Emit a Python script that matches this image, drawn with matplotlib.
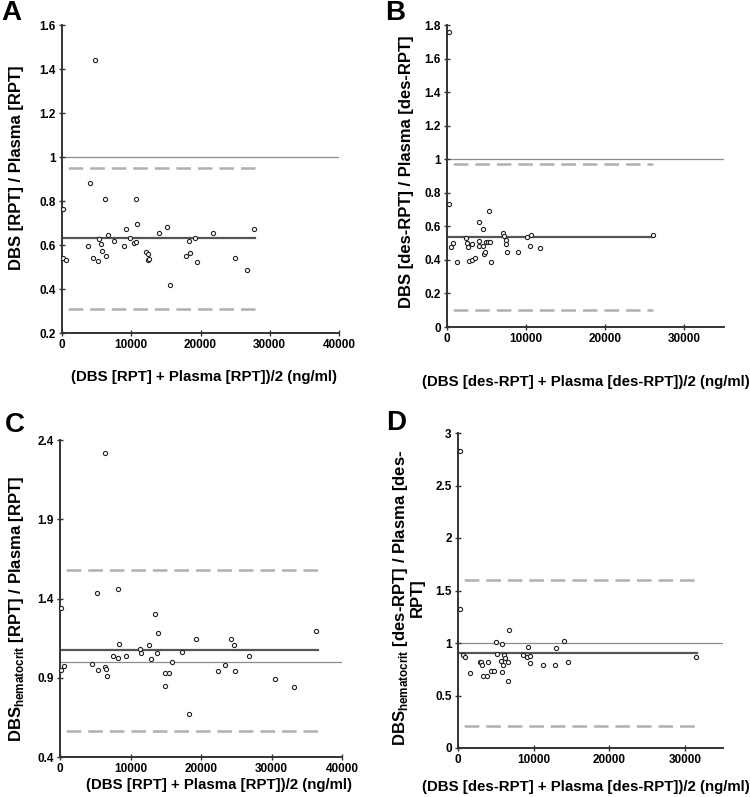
import numpy as np
import matplotlib
matplotlib.use("Agg")
import matplotlib.pyplot as plt
import matplotlib.transforms as mtransforms

plt.rcParams['font.family'] = ['Liberation Sans', 'DejaVu Sans']
plt.rcParams['font.weight'] = 'bold'
plt.rcParams['mathtext.fontset'] = 'custom'
plt.rcParams['mathtext.rm'] = 'Liberation Sans:bold'
plt.rcParams['mathtext.bf'] = 'Liberation Sans:bold'
plt.rcParams['lines.scale_dashes'] = False

# Panel A: RPT, DBS / plasma
a_x = [100, 200, 577, 4808, 4087, 3798, 4471, 5144, 5385, 5673, 5817, 6154, 6394,
       6587, 7500, 8991, 9183, 9760, 10337, 10625, 10721, 10817, 12164, 12404,
       12452, 12548, 13943, 15193, 15529, 17885, 18366, 18510, 19231, 19520,
       21779, 25000, 26780, 27694]
a_y = [0.763, 0.541, 0.531, 1.443, 0.884, 0.595, 0.542, 0.528, 0.628, 0.604, 0.574,
       0.807, 0.550, 0.647, 0.616, 0.597, 0.671, 0.630, 0.610, 0.807, 0.613, 0.696,
       0.569, 0.533, 0.560, 0.535, 0.656, 0.684, 0.416, 0.548, 0.619, 0.562, 0.634,
       0.521, 0.656, 0.541, 0.486, 0.674]
a_mean, a_lo, a_hi, a_end = 0.63, 0.31, 0.95, 27900

# Panel B: des-RPT, DBS / plasma
b_x = [210, 210, 546, 756, 1219, 2437, 2563, 2605, 2815, 3110, 3152, 3572, 4034,
       4076, 4076, 4496, 4538, 4706, 4832, 4874, 5126, 5294, 5462, 5547, 7017,
       7227, 7395, 7479, 7563, 8992, 10127, 10547, 10673, 11723, 26010]
b_y = [1.760, 0.734, 0.475, 0.503, 0.390, 0.529, 0.503, 0.475, 0.396, 0.495, 0.400,
       0.412, 0.627, 0.513, 0.483, 0.483, 0.583, 0.434, 0.449, 0.509, 0.509, 0.694,
       0.505, 0.390, 0.561, 0.545, 0.519, 0.495, 0.445, 0.449, 0.539, 0.483, 0.549,
       0.473, 0.549]
b_mean, b_lo, b_hi, b_end = 0.535, 0.10, 0.97, 26000

# Panel C: RPT, hematocrit-corrected DBS / plasma
c_x = [6423, 94, 94, 567, 4581, 5195, 5431, 6423, 6470, 6707, 7462, 8265, 8360,
       8265, 9305, 11383, 11477, 12563, 12847, 13461, 13697, 13886, 14878, 14878,
       15397, 15869, 17286, 18278, 19317, 22387, 23473, 24276, 24701, 24796, 26780,
       30558, 33155, 36367]
c_y = [2.320, 1.339, 0.946, 0.974, 0.984, 1.436, 0.946, 0.967, 0.955, 0.908, 1.037,
       1.463, 1.112, 1.022, 1.037, 1.081, 1.056, 1.106, 1.016, 1.301, 1.058, 1.184,
       0.929, 0.850, 0.927, 0.997, 1.062, 0.673, 1.142, 0.944, 0.982, 1.142, 1.104,
       0.942, 1.037, 0.890, 0.839, 1.198]
c_mean, c_lo, c_hi, c_end = 1.077, 0.566, 1.581, 36600

# Panel D: des-RPT, hematocrit-corrected DBS / plasma
d_x = [309, 265, 706, 882, 1588, 2912, 3044, 3177, 3353, 3794, 3927, 4412, 4721,
       5030, 5206, 5647, 5780, 5824, 5956, 6089, 6265, 6618, 6662, 6750, 8559,
       9177, 9309, 9486, 9486, 11206, 12795, 12883, 13942, 14560, 31413]
d_y = [2.832, 1.327, 0.883, 0.870, 0.714, 0.819, 0.819, 0.790, 0.689, 0.689, 0.822,
       0.730, 0.730, 1.006, 0.892, 0.832, 0.994, 0.727, 0.787, 0.886, 0.857, 0.819,
       0.635, 1.127, 0.889, 0.870, 0.965, 0.876, 0.806, 0.787, 0.787, 0.949, 1.016,
       0.819, 0.870]
d_mean, d_lo, d_hi, d_end = 0.905, 0.213, 1.603, 31600

panels = [
    dict(letter='A', x=a_x, y=a_y, mean=a_mean, lo=a_lo, hi=a_hi, end=a_end,
         xlim=40000, xticks=[0, 10000, 20000, 30000, 40000],
         ylim=(0.2, 1.6), yticks=[0.2, 0.4, 0.6, 0.8, 1.0, 1.2, 1.4, 1.6],
         ylabels=['0.2', '0.4', '0.6', '0.8', '1', '1.2', '1.4', '1.6'],
         rect=[62, 25, 339, 333],
         xlabel='(DBS [RPT] + Plasma [RPT])/2 (ng/ml)', xl=(204, 377),
         ylabel='DBS [RPT] / Plasma [RPT]', yl=(17, 168), lt=(11, 13)),
    dict(letter='B', x=b_x, y=b_y, mean=b_mean, lo=b_lo, hi=b_hi, end=b_end,
         xlim=35000, xticks=[0, 10000, 20000, 30000],
         ylim=(0, 1.8), yticks=[0, 0.2, 0.4, 0.6, 0.8, 1.0, 1.2, 1.4, 1.6, 1.8],
         ylabels=['0', '0.2', '0.4', '0.6', '0.8', '1', '1.2', '1.4', '1.6', '1.8'],
         rect=[447, 25, 724, 327],
         xlabel='(DBS [des-RPT] + Plasma [des-RPT])/2 (ng/ml)', xl=(586, 382),
         ylabel='DBS [des-RPT] / Plasma [des-RPT]', yl=(407, 172), lt=(395, 13)),
    dict(letter='C', x=c_x, y=c_y, mean=c_mean, lo=c_lo, hi=c_hi, end=c_end,
         xlim=40000, xticks=[0, 10000, 20000, 30000, 40000],
         ylim=(0.4, 2.4), yticks=[0.4, 0.9, 1.4, 1.9, 2.4],
         ylabels=['0.4', '0.9', '1.4', '1.9', '2.4'],
         rect=[60, 440, 342, 757],
         xlabel='(DBS [RPT] + Plasma [RPT])/2 (ng/ml)', xl=(219, 785),
         ylabel=r'DBS$_{\mathbf{hematocrit}}$ [RPT] / Plasma [RPT]', yl=(17, 609),
         lt=(15, 425)),
    dict(letter='D', x=d_x, y=d_y, mean=d_mean, lo=d_lo, hi=d_hi, end=d_end,
         xlim=35000, xticks=[0, 10000, 20000, 30000],
         ylim=(0, 3), yticks=[0, 0.5, 1, 1.5, 2, 2.5, 3],
         ylabels=['0', '0.5', '1', '1.5', '2', '2.5', '3'],
         rect=[458, 433, 723, 748],
         xlabel='(DBS [des-RPT] + Plasma [des-RPT])/2 (ng/ml)', xl=(586, 787),
         ylabel='DBS$_{\\mathbf{hematocrit}}$ [des-RPT] / Plasma [des-\nRPT]',
         yl=(408, 598), lt=(396, 423)),
]

W, H = 750, 797
fig = plt.figure(figsize=(W / 100, H / 100), dpi=100)
to_fig = mtransforms.Affine2D().scale(1 / W, -1 / H).translate(0, 1) + fig.transFigure

for p in panels:
    l, t, r, b = p['rect']
    ax = fig.add_axes([l / W, 1 - b / H, (r - l) / W, (b - t) / H])
    ax.set_xlim(0, p['xlim'])
    ax.set_ylim(*p['ylim'])

    # reference line at 1, mean ratio, 95% limits
    ax.axhline(1.0, color='#8c8c8c', lw=0.9, zorder=1)
    ax.plot([0, p['end']], [p['mean'], p['mean']], color='#555555', lw=1.6, zorder=2)
    for lim in (p['lo'], p['hi']):
        ax.plot([0, p['end']], [lim, lim], color='#b0b0b0', lw=1.8,
                linestyle=(11, (10.5, 5.0)), zorder=1)

    ax.plot(p['x'], p['y'], linestyle='none', marker='o', ms=3.0,
            mfc='white', mec='#222222', mew=0.8, zorder=3, clip_on=False)

    for s in ('top', 'right'):
        ax.spines[s].set_visible(False)
    for s in ('left', 'bottom'):
        ax.spines[s].set_color('#333333')
        ax.spines[s].set_linewidth(1.4)

    ax.set_xticks(p['xticks'])
    ax.set_xticklabels([str(v) for v in p['xticks']])
    ax.set_yticks(p['yticks'])
    ax.set_yticklabels(p['ylabels'])
    ax.tick_params(direction='inout', length=5, width=1.0, color='#333333',
                   labelsize=8.5, pad=2)
    for lbl in ax.get_xticklabels() + ax.get_yticklabels():
        lbl.set_fontweight('bold')

    fig.text(p['xl'][0], p['xl'][1], p['xlabel'], transform=to_fig,
             ha='center', va='center', fontsize=10.8, fontweight='bold')
    fig.text(p['yl'][0], p['yl'][1], p['ylabel'], transform=to_fig, rotation=90,
             ha='center', va='center', fontsize=12, fontweight='bold',
             multialignment='center', linespacing=1.0)
    fig.text(p['lt'][0], p['lt'][1], p['letter'], transform=to_fig,
             ha='center', va='center', fontsize=20, fontweight='bold')

fig.savefig('out.png', dpi=100)
